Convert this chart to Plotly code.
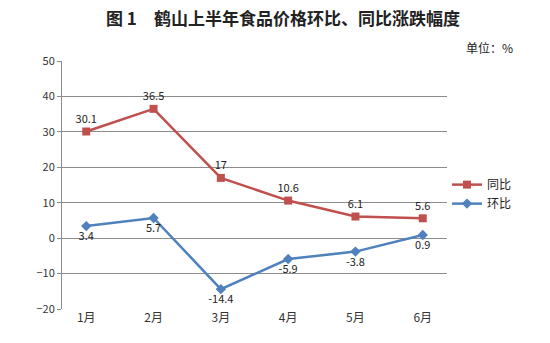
import plotly.graph_objects as go

months = ["1月", "2月", "3月", "4月", "5月", "6月"]
yoy = [30.1, 36.5, 17, 10.6, 6.1, 5.6]      # 同比
mom = [3.4, 5.7, -14.4, -5.9, -3.8, 0.9]    # 环比
y_ticks = [-20, -10, 0, 10, 20, 30, 40, 50]

RED = "#C0504D"
BLUE = "#4F81BD"
FONT = "Noto Sans CJK SC, DejaVu Sans, sans-serif"

fig = go.Figure()
fig.add_trace(go.Scatter(
    x=months, y=yoy, name="同比", mode="lines+markers+text",
    line=dict(color=RED, width=2.5),
    marker=dict(symbol="square", size=8, color=RED),
    text=[f"{v:g}" for v in yoy], textposition="top center",
    textfont=dict(size=11, color="#222", family=FONT),
))
fig.add_trace(go.Scatter(
    x=months, y=mom, name="环比", mode="lines+markers+text",
    line=dict(color=BLUE, width=2.5),
    marker=dict(symbol="diamond", size=8, color=BLUE),
    text=[f"{v:g}" for v in mom], textposition="bottom center",
    textfont=dict(size=11, color="#222", family=FONT),
))

fig.update_layout(
    width=550, height=343,
    margin=dict(l=62, r=103, t=61, b=34),
    paper_bgcolor="white", plot_bgcolor="white",
    font=dict(family=FONT, color="#333"),
    showlegend=True,
    legend=dict(x=1.0, y=0.56, xanchor="left", yanchor="top",
                font=dict(size=12, color="#222"), tracegroupgap=2,
                itemwidth=30, bgcolor="rgba(0,0,0,0)"),
    xaxis=dict(type="category", showgrid=False, zeroline=False,
               showline=False, ticks="", tickfont=dict(size=12, color="#333")),
    yaxis=dict(range=[-20, 50], tickvals=y_ticks, showgrid=True,
               gridcolor="#8C8C8C", gridwidth=1, zeroline=False,
               showline=True, linecolor="#8C8C8C", linewidth=1,
               ticks="outside", ticklen=4, tickcolor="#8C8C8C",
               tickfont=dict(size=11, color="#333")),
    annotations=[
        dict(text="<b>图 1　鹤山上半年食品价格环比、同比涨跌幅度</b>",
             xref="paper", yref="paper", x=0.575, y=1.0, yshift=44,
             xanchor="center", yanchor="middle", showarrow=False,
             font=dict(size=17, color="#222", family=FONT)),
        dict(text="单位：%",
             xref="paper", yref="paper", x=1.11, y=1.0, yshift=14,
             xanchor="center", yanchor="middle", showarrow=False,
             font=dict(size=12, color="#222", family=FONT)),
    ],
)

fig.write_html("out.html")
